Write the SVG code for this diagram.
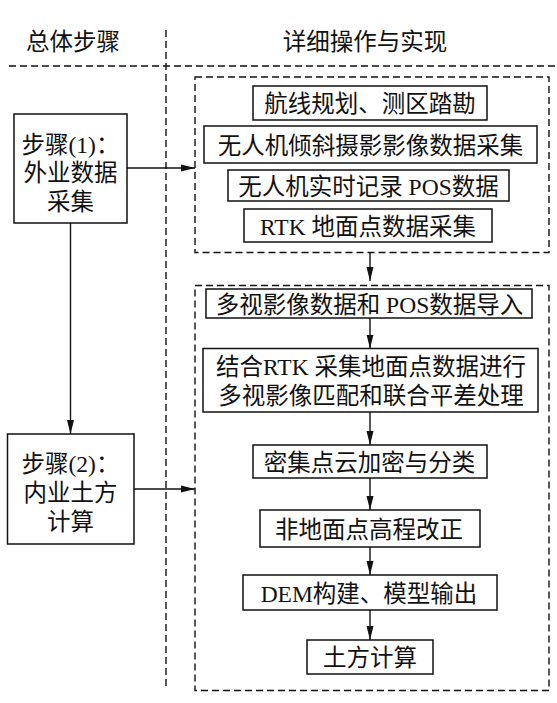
<svg xmlns="http://www.w3.org/2000/svg" width="557" height="703" viewBox="0 0 557 703">
<style>
  .t{font-family:"Liberation Serif","Noto Sans CJK SC",serif;font-size:23.5px;fill:#111;text-anchor:middle}
  .box{fill:none;stroke:#111;stroke-width:1.5}
  .dash{fill:none;stroke:#111;stroke-width:1.4;stroke-dasharray:7 4}
  .ln{fill:none;stroke:#111;stroke-width:1.4}
</style>
<defs>
  <marker id="ah" markerUnits="userSpaceOnUse" markerWidth="15" markerHeight="8" refX="14" refY="4" orient="auto">
    <path d="M0,0.5 L14,4 L0,7.5 z" fill="#111"/>
  </marker>
</defs>
<rect width="557" height="703" fill="#fff"/>

<g id="frame">
  <text class="t" x="73" y="49.5">总体步骤</text>
  <text class="t" x="365" y="49.5">详细操作与实现</text>
  <line class="dash" x1="9" y1="66" x2="557" y2="66"/>
  <line class="dash" x1="166" y1="30" x2="166" y2="690"/>
</g>

<g id="group-field">
  <rect class="dash" x="195" y="77" width="354" height="175.5"/>
</g>
<g id="group-office">
  <rect class="dash" x="195" y="285.5" width="354" height="405"/>
</g>

<g id="step1">
  <rect class="box" x="14" y="114" width="113" height="109"/>
  <text class="t" x="70.5" y="152.5">步骤(1)：</text>
  <text class="t" x="70.5" y="180.5">外业数据</text>
  <text class="t" x="70.5" y="210">采集</text>
</g>
<g id="step2">
  <rect class="box" x="7.5" y="434" width="126.5" height="110"/>
  <text class="t" x="70.5" y="472">步骤(2)：</text>
  <text class="t" x="70.5" y="500.5">内业土方</text>
  <text class="t" x="70.5" y="530">计算</text>
</g>

<g id="nodeA">
  <rect class="box" x="253" y="86" width="234" height="34"/>
  <text class="t" x="370" y="112">航线规划、测区踏勘</text>
</g>
<g id="nodeB">
  <rect class="box" x="204" y="126" width="333" height="37"/>
  <text class="t" x="370.5" y="153.5">无人机倾斜摄影影像数据采集</text>
</g>
<g id="nodeC">
  <rect class="box" x="228" y="170" width="281" height="31"/>
  <text class="t" x="368.5" y="195">无人机实时记录 POS数据</text>
</g>
<g id="nodeD">
  <rect class="box" x="244" y="209" width="248" height="33"/>
  <text class="t" x="368" y="234.5">RTK 地面点数据采集</text>
</g>

<g id="nodeE">
  <rect class="box" x="206" y="289" width="326" height="29"/>
  <text class="t" x="369.5" y="312.5">多视影像数据和 POS数据导入</text>
</g>
<g id="nodeF">
  <rect class="box" x="203" y="348.5" width="335" height="63.5"/>
  <text class="t" x="371" y="375">结合RTK 采集地面点数据进行</text>
  <text class="t" x="371" y="404">多视影像匹配和联合平差处理</text>
</g>
<g id="nodeG">
  <rect class="box" x="253" y="445" width="234" height="33"/>
  <text class="t" x="369.5" y="470.5">密集点云加密与分类</text>
</g>
<g id="nodeH">
  <rect class="box" x="260" y="510" width="220" height="37"/>
  <text class="t" x="369" y="537.5">非地面点高程改正</text>
</g>
<g id="nodeI">
  <rect class="box" x="243" y="575" width="254" height="35"/>
  <text class="t" x="369" y="601.5">DEM构建、模型输出</text>
</g>
<g id="nodeJ">
  <rect class="box" x="307" y="640" width="126" height="34"/>
  <text class="t" x="370" y="666">土方计算</text>
</g>

<g id="connectors">
  <line class="ln" x1="127" y1="168" x2="195" y2="168" marker-end="url(#ah)"/>
  <line class="ln" x1="70.5" y1="223" x2="70.5" y2="434" marker-end="url(#ah)"/>
  <line class="ln" x1="134" y1="489" x2="195" y2="489" marker-end="url(#ah)"/>
  <line class="ln" x1="370" y1="252.5" x2="370" y2="281" marker-end="url(#ah)"/>
  <line class="ln" x1="370" y1="318" x2="370" y2="348.5" marker-end="url(#ah)"/>
  <line class="ln" x1="370" y1="412" x2="370" y2="445" marker-end="url(#ah)"/>
  <line class="ln" x1="370" y1="478" x2="370" y2="510" marker-end="url(#ah)"/>
  <line class="ln" x1="370" y1="547" x2="370" y2="575" marker-end="url(#ah)"/>
  <line class="ln" x1="370" y1="610" x2="370" y2="640" marker-end="url(#ah)"/>
</g>
</svg>
